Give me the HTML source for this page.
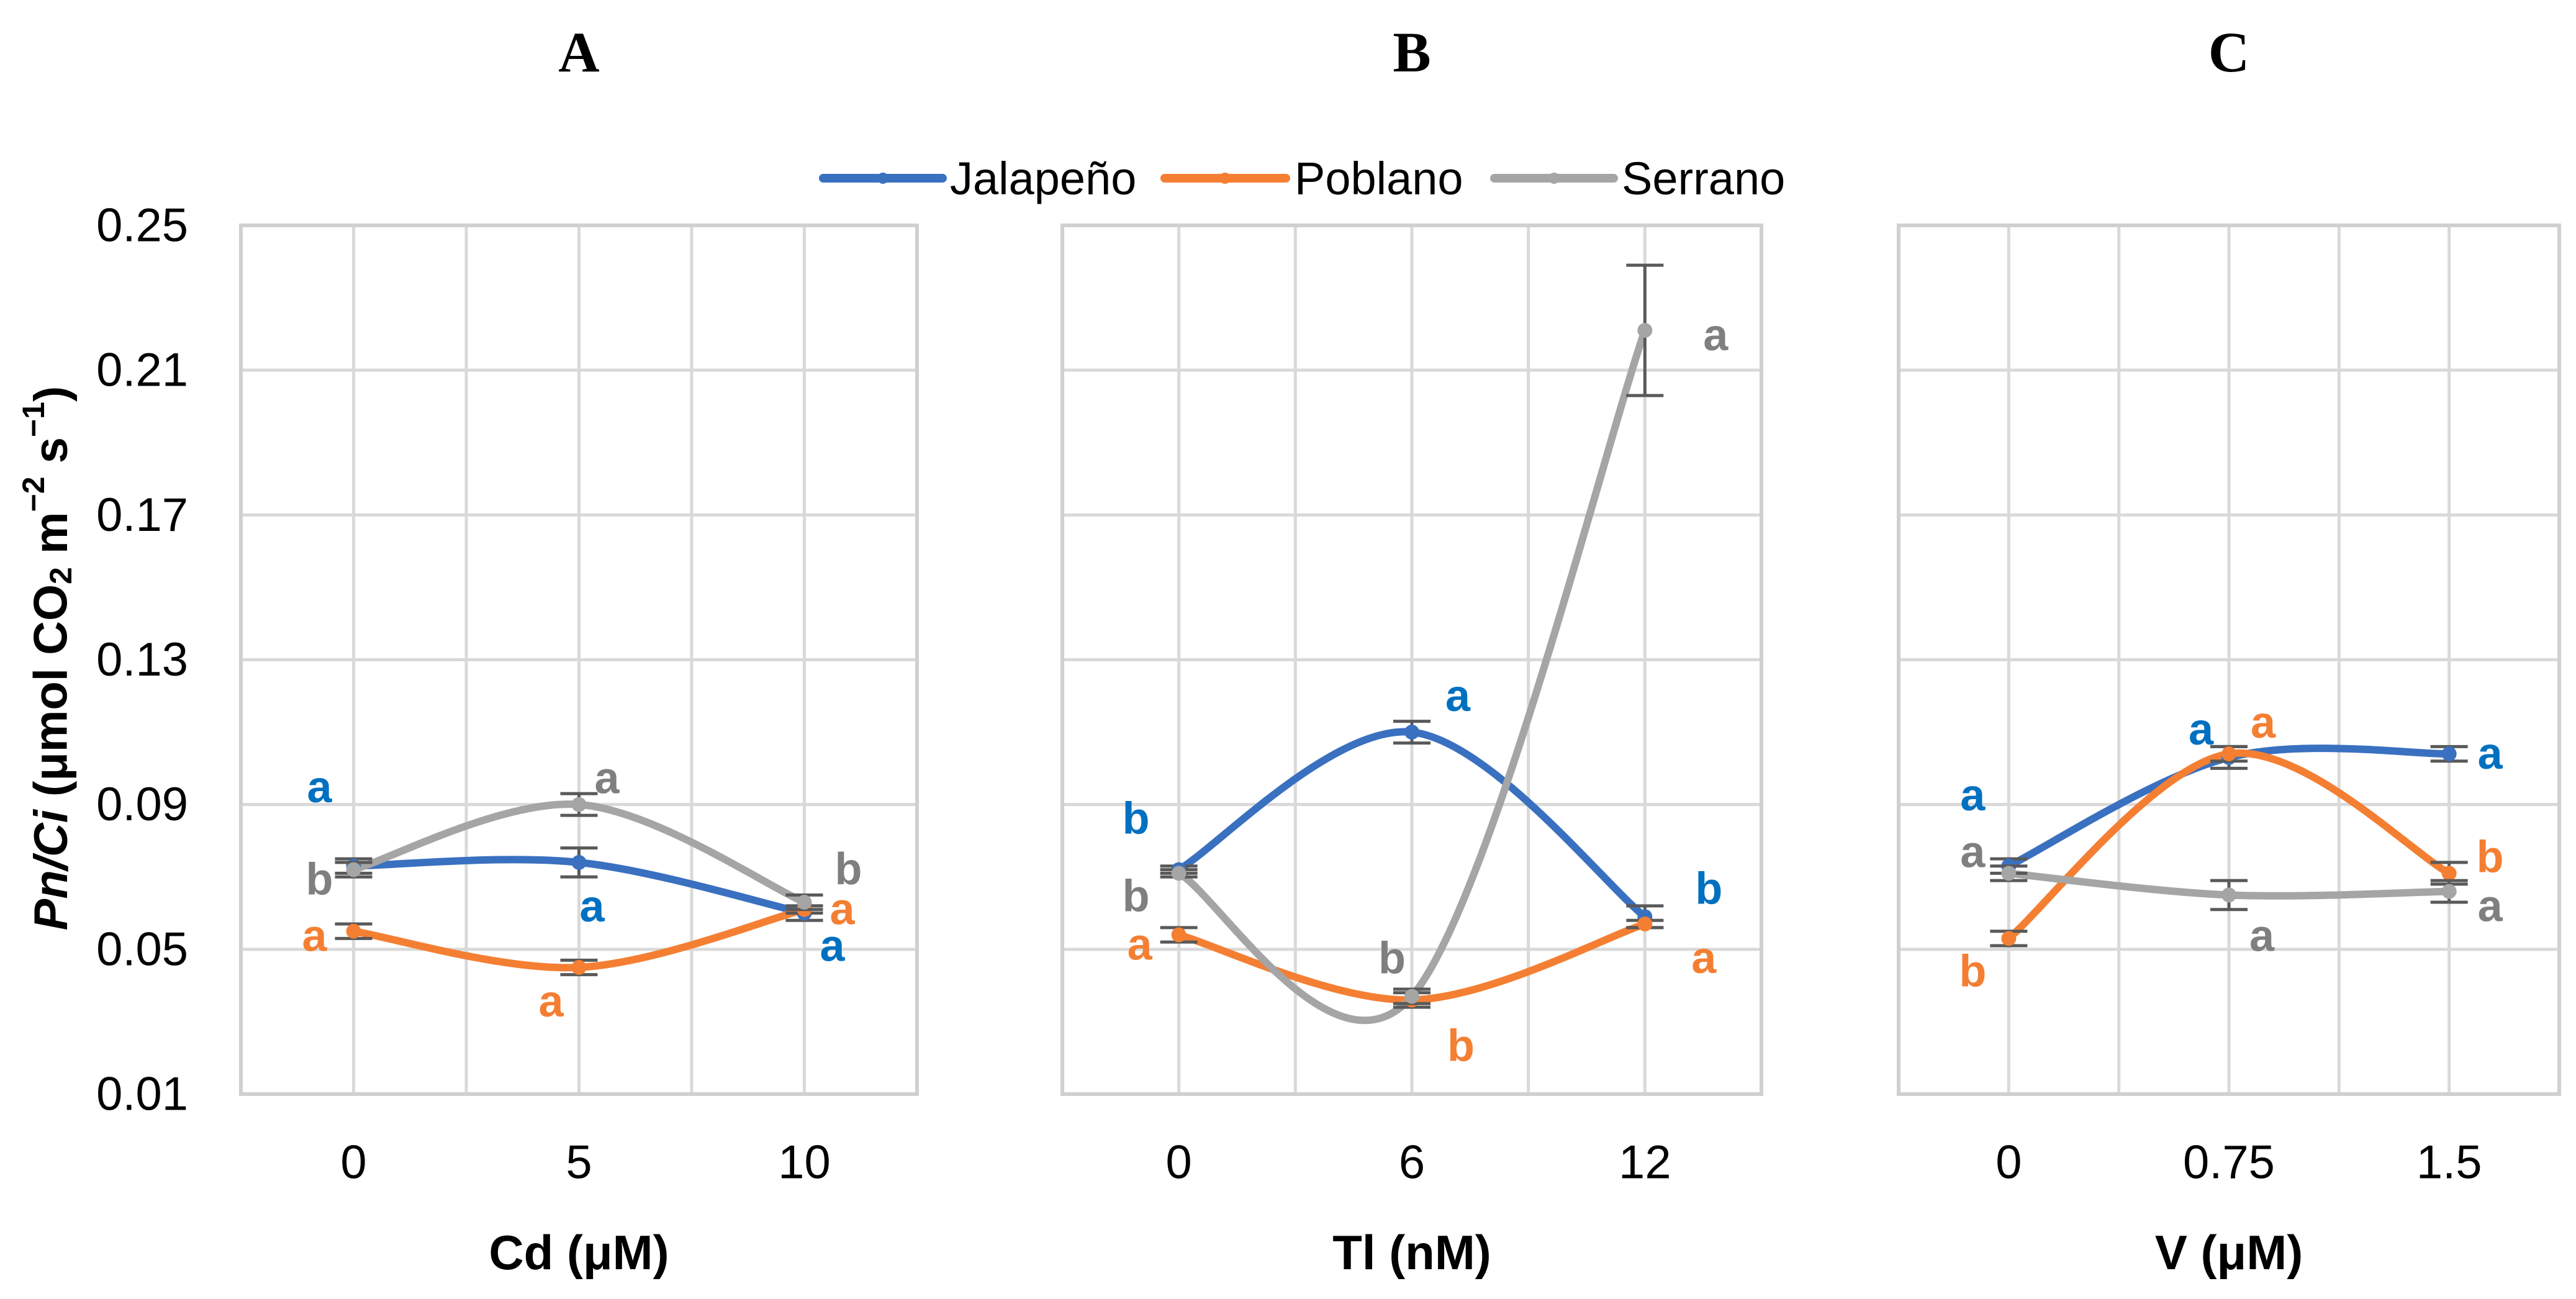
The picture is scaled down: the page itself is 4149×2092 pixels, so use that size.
<!DOCTYPE html>
<html><head><meta charset="utf-8">
<style>
html,body{margin:0;padding:0;background:#fff;}
svg{display:block;}
text{font-family:"Liberation Sans",sans-serif;}
</style></head>
<body>
<svg id="chart" width="4149" height="2092" viewBox="0 0 4149 2092" xmlns="http://www.w3.org/2000/svg">
<rect x="0" y="0" width="4149" height="2092" fill="#fff"/>
<g id="legend">
  <g>
    <line x1="1326" y1="287" x2="1518" y2="287" stroke="#3A70C0" stroke-width="14" stroke-linecap="round"/>
    <circle cx="1422" cy="287" r="9" fill="#3A70C0"/>
    <text x="1530" y="313" font-size="74" fill="#000">Jalapeño</text>
  </g>
  <g>
    <line x1="1876" y1="287" x2="2071" y2="287" stroke="#F47F33" stroke-width="14" stroke-linecap="round"/>
    <circle cx="1973" cy="287" r="9" fill="#F47F33"/>
    <text x="2085" y="313" font-size="74" fill="#000">Poblano</text>
  </g>
  <g>
    <line x1="2407" y1="287" x2="2599" y2="287" stroke="#A5A5A5" stroke-width="14" stroke-linecap="round"/>
    <circle cx="2503" cy="287" r="9" fill="#A5A5A5"/>
    <text x="2612" y="313" font-size="74" fill="#000">Serrano</text>
  </g>
</g>
<text x="82" y="1060" font-size="76" font-weight="bold" text-anchor="middle" dominant-baseline="central" transform="rotate(-90 82 1060)"><tspan font-style="italic">Pn/Ci</tspan> (μmol CO<tspan font-size="50" dy="16">2</tspan><tspan dy="-16"> m</tspan><tspan font-size="50" dy="-28">−2</tspan><tspan dy="28"> s</tspan><tspan font-size="50" dy="-28">−1</tspan><tspan dy="28">)</tspan></text>
</svg>
<script>
const yTicks = [0.01, 0.05, 0.09, 0.13, 0.17, 0.21, 0.25];
const seriesNames = ["Jalapeño", "Poblano", "Serrano"];
const panelTitles = ["A", "B", "C"];
const xTitles = ["Cd (μM)", "Tl (nM)", "V (μM)"];
const catsA = ["0", "5", "10"];
const catsB = ["0", "6", "12"];
const catsC = ["0", "0.75", "1.5"];
const jalA = [0.073, 0.074, 0.060];
const pobA = [0.055, 0.045, 0.061];
const serA = [0.072, 0.090, 0.063];
const jalErrA = [0.002, 0.004, 0.002];
const pobErrA = [0.002, 0.002, 0.001];
const serErrA = [0.002, 0.003, 0.002];
const jalB = [0.072, 0.110, 0.059];
const pobB = [0.054, 0.036, 0.057];
const serB = [0.071, 0.037, 0.221];
const jalErrB = [0.001, 0.003, 0.003];
const pobErrB = [0.002, 0.002, 0.001];
const serErrB = [0.001, 0.002, 0.018];
const jalC = [0.073, 0.103, 0.104];
const pobC = [0.053, 0.104, 0.071];
const serC = [0.071, 0.065, 0.066];
const jalErrC = [0.002, 0.003, 0.002];
const pobErrC = [0.002, 0.002, 0.003];
const serErrC = [0.002, 0.004, 0.003];
const lettersA = [["a","a","a"],["a","a","a"],["b","a","b"]];
const lettersB = [["b","a","b"],["a","b","a"],["b","b","a"]];
const lettersC = [["a","a","a"],["b","a","b"],["a","a","a"]];

const svg = document.getElementById('chart');
const NS = 'http://www.w3.org/2000/svg';
const colors = ["#3A70C0", "#F47F33", "#A5A5A5"];
const letterColors = ["#0070C0", "#F47F33", "#7F7F7F"];
const yTop = 363, yBot = 1762, yMin = 0.01, yMax = 0.25;
function yScale(v){ return yBot - (v - yMin) / (yMax - yMin) * (yBot - yTop); }
function mk(tag, attrs){ const e = document.createElementNS(NS, tag); for (const k in attrs) e.setAttribute(k, attrs[k]); return e; }

const panels = [
  {left:388, right:1477, cats:catsA, vals:[jalA,pobA,serA], errs:[jalErrA,pobErrA,serErrA], letters:lettersA,
   off:[[[-55,-127],[21,71],[45,53]],[[-63,8],[-45,55],[61,0]],[[-55,16],[45,-42],[71,-53]]]},
  {left:1711, right:2837, cats:catsB, vals:[jalB,pobB,serB], errs:[jalErrB,pobErrB,serErrB], letters:lettersB,
   off:[[[-69,-82],[74,-58],[103,-45]],[[-63,16],[79,74],[95,55]],[[-69,37],[-32,-61],[114,8]]]},
  {left:3058, right:4122, cats:catsC, vals:[jalC,pobC,serC], errs:[jalErrC,pobErrC,serErrC], letters:lettersC,
   off:[[[-58,-114],[-45,-45],[66,0]],[[-58,53],[55,-50],[66,-26]],[[-58,-34],[53,66],[66,24]]]}
];

yTicks.forEach(t => {
  const tx = mk('text', {x:303, y:yScale(t), 'font-size':76, 'text-anchor':'end', 'dominant-baseline':'central', fill:'#000'});
  
  
  tx.textContent = t.toFixed(2);
  svg.appendChild(tx);
});

function smoothPath(pts){
  let d = `M${pts[0][0]},${pts[0][1]}`;
  for (let i = 0; i < pts.length - 1; i++){
    const p0 = pts[Math.max(0,i-1)], p1 = pts[i], p2 = pts[i+1], p3 = pts[Math.min(pts.length-1,i+2)];
    const c1 = [p1[0] + (p2[0]-p0[0])/6, p1[1] + (p2[1]-p0[1])/6];
    const c2 = [p2[0] - (p3[0]-p1[0])/6, p2[1] - (p3[1]-p1[1])/6];
    d += ` C${c1[0]},${c1[1]} ${c2[0]},${c2[1]} ${p2[0]},${p2[1]}`;
  }
  return d;
}

panels.forEach((p, pi) => {
  const g = mk('g', {});
  
  
  svg.appendChild(g);
  const unit = (p.right - p.left) / 6;
  const xScale = i => p.left + unit * (1 + 2 * i);
  for (let k = 0; k <= 6; k++){
    const x = p.left + unit * k;
    const l = mk('line', {x1:x, y1:yTop, x2:x, y2:yBot, stroke:'#D9D9D9', 'stroke-width':5});
    
    
    g.appendChild(l);
  }
  yTicks.forEach(t => {
    const l = mk('line', {x1:p.left, y1:yScale(t), x2:p.right, y2:yScale(t), stroke:'#D9D9D9', 'stroke-width':5});
    
    
    g.appendChild(l);
  });
  const border = mk('rect', {x:p.left, y:yTop, width:p.right-p.left, height:yBot-yTop, fill:'none', stroke:'#D0D0D0', 'stroke-width':6});
  
  
  g.appendChild(border);
  const title = mk('text', {x:xScale(1), y:115, 'font-size':92, 'font-weight':'bold', 'text-anchor':'middle', fill:'#000', style:'font-family:"Liberation Serif",serif'});
  
  
  title.textContent = panelTitles[pi];
  g.appendChild(title);
  p.cats.forEach((c, i) => {
    const tx = mk('text', {x:xScale(i), y:1872, 'font-size':76, 'text-anchor':'middle', 'dominant-baseline':'central', fill:'#000'});
    
    
    tx.textContent = c;
    g.appendChild(tx);
  });
  const xt = mk('text', {x:xScale(1), y:2017, 'font-size':78, 'font-weight':'bold', 'text-anchor':'middle', 'dominant-baseline':'central', fill:'#000'});
  
  
  xt.textContent = xTitles[pi];
  g.appendChild(xt);
  p.vals.forEach((vals, si) => {
    const pts = vals.map((v, i) => [xScale(i), yScale(v)]);
    const path = mk('path', {d:smoothPath(pts), fill:'none', stroke:colors[si], 'stroke-width':12, 'stroke-linecap':'round'});
    
    
    g.appendChild(path);
  });
  p.vals.forEach((vals, si) => {
    vals.forEach((v, i) => {
      const x = xScale(i), e = p.errs[si][i];
      const y1 = yScale(v + e), y2 = yScale(v - e);
      const eb = mk('path', {d:`M${x},${y1} V${y2} M${x-30},${y1} H${x+30} M${x-30},${y2} H${x+30}`, stroke:'#595959', 'stroke-width':5, fill:'none'});
      
      
      g.appendChild(eb);
      const pt = mk('circle', {cx:x, cy:yScale(v), r:12, fill:colors[si]});
      
      
      g.appendChild(pt);
      const o = p.off[si][i];
      const lt = mk('text', {x:x + o[0], y:yScale(v) + o[1], 'font-size':72, 'font-weight':'bold', 'text-anchor':'middle', 'dominant-baseline':'central', fill:letterColors[si]});
      
      
      lt.textContent = p.letters[si][i];
      g.appendChild(lt);
    });
  });
});
svg.appendChild(document.getElementById('legend'));
</script>
</body></html>
